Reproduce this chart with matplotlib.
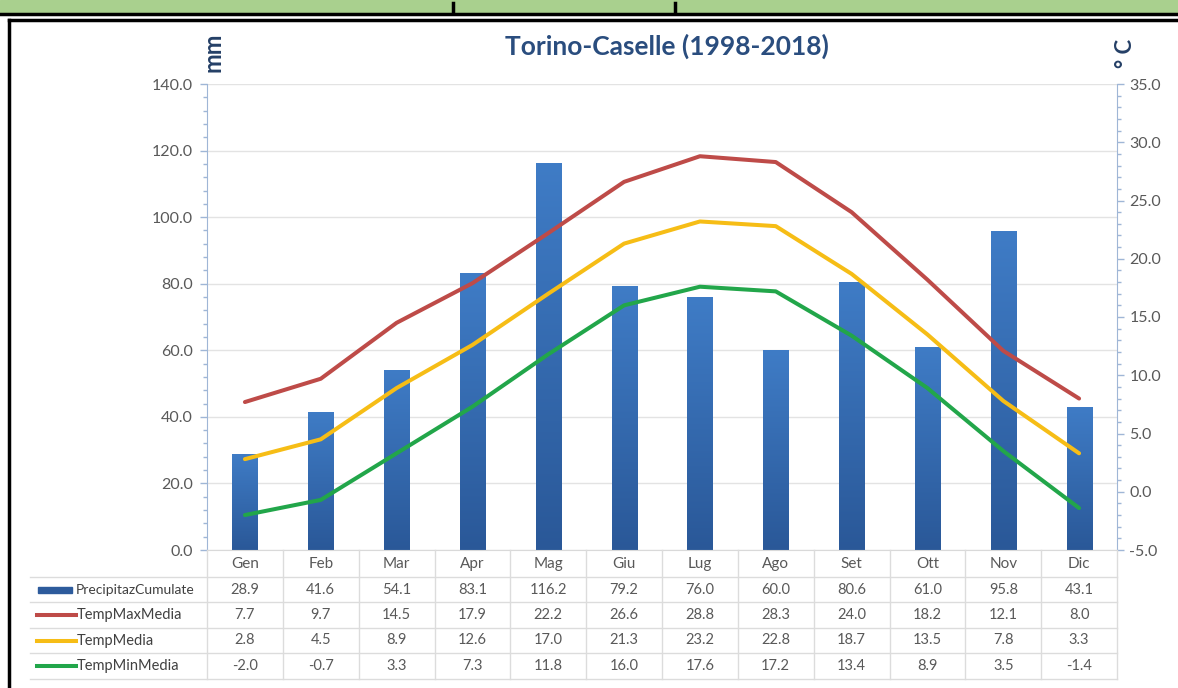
import matplotlib
matplotlib.use("Agg")
import matplotlib.pyplot as plt
import numpy as np
from matplotlib.patches import Rectangle
from matplotlib.lines import Line2D
from matplotlib.colors import LinearSegmentedColormap

months = ["Gen", "Feb", "Mar", "Apr", "Mag", "Giu", "Lug", "Ago", "Set", "Ott", "Nov", "Dic"]
precip = [28.9, 41.6, 54.1, 83.1, 116.2, 79.2, 76.0, 60.0, 80.6, 61.0, 95.8, 43.1]
tmax = [7.7, 9.7, 14.5, 17.9, 22.2, 26.6, 28.8, 28.3, 24.0, 18.2, 12.1, 8.0]
tmed = [2.8, 4.5, 8.9, 12.6, 17.0, 21.3, 23.2, 22.8, 18.7, 13.5, 7.8, 3.3]
tmin = [-2.0, -0.7, 3.3, 7.3, 11.8, 16.0, 17.6, 17.2, 13.4, 8.9, 3.5, -1.4]
series_names = ["PrecipitazCumulate", "TempMaxMedia", "TempMedia", "TempMinMedia"]

W, H = 1178, 688
plt.rcParams['font.family'] = ['Lato', 'DejaVu Sans']
fig = plt.figure(figsize=(W / 100, H / 100), dpi=100)

def fx(x):
    return x / W

def fy(y):
    return 1 - y / H

# plot area in pixels
L, R, T, B = 207, 1117, 84, 550
ax = fig.add_axes([fx(L), fy(B), fx(R) - fx(L), fy(T) - fy(B)])
ax2 = ax.twinx()

x = np.arange(len(months))

# gradient bars
bars = ax.bar(x, precip, width=0.33, color="none", edgecolor="none", zorder=2)
cmap = LinearSegmentedColormap.from_list("b", ["#2a5898", "#3f7cc6"])
grad = np.linspace(0, 1, 256).reshape(-1, 1)
for b in bars:
    x0, y0 = b.get_x(), b.get_y()
    w, h = b.get_width(), b.get_height()
    im = ax.imshow(grad, cmap=cmap, aspect="auto", origin="lower",
                   extent=[x0, x0 + w, y0, y0 + h], zorder=2)
    im.set_clip_path(b)
ax.set_xlim(-0.5, len(months) - 0.5)
ax.set_ylim(0, 140)
ax2.set_ylim(-5, 35)

line_cols = ["#be4b48", "#f6bd16", "#22a64a"]
for vals, c in zip([tmax, tmed, tmin], line_cols):
    ax2.plot(x, vals, color=c, lw=2.9, solid_joinstyle="round", solid_capstyle="round", zorder=3)

# grid & axes styling
ax.set_yticks(np.arange(0, 141, 20))
ax.set_yticks(np.arange(0, 141, 4), minor=True)
ax.yaxis.grid(True, which="major", color="#e3e3e3", lw=1)
ax.set_axisbelow(True)
ax.set_yticklabels([f"{v:.1f}" for v in np.arange(0, 141, 20)])
ax2.set_yticks(np.arange(-5, 36, 5))
ax2.set_yticks(np.arange(-5, 36, 1), minor=True)
ax2.set_yticklabels([f"{v:.1f}" for v in np.arange(-5, 36, 5)])
ax.set_xticks([])
ax2.set_xticks([])
axis_col = "#9fb6d6"
for a in (ax, ax2):
    a.spines["top"].set_visible(False)
    a.tick_params(axis="y", colors=axis_col, labelcolor="#595959", labelsize=11.5,
                  length=5, width=1)
    a.tick_params(axis="y", which="minor", colors=axis_col, length=3, width=1)
ax.spines["right"].set_visible(False)
ax2.spines["left"].set_visible(False)
ax.spines["left"].set_color(axis_col)
ax2.spines["right"].set_color(axis_col)
ax.spines["bottom"].set_color("#d9d9d9")
ax2.spines["bottom"].set_visible(False)
ax.tick_params(axis="y", pad=5)
ax2.tick_params(axis="y", pad=4)

# titles
fig.text(fx(667), fy(46), "Torino-Caselle (1998-2018)", ha="center", va="center",
         fontsize=19, fontweight="bold", color="#2a4d7e")
fig.text(fx(213), fy(52), "mm", ha="center", va="center", rotation=90,
         fontsize=17, fontweight="bold", color="#243f66")
fig.text(fx(1126), fy(53), "° C", ha="center", va="center", rotation=90,
         fontsize=16, fontweight="bold", color="#243f66")

# table
col_w = (R - L) / len(months)
row_bounds = [550, 577, 602, 628, 653, 679]
grid_col = "#dcdcdc"
for yb in row_bounds[1:]:
    fig.add_artist(Line2D([fx(30), fx(R)], [fy(yb), fy(yb)], color=grid_col, lw=1))
for k in range(len(months) + 1):
    xx = L + k * col_w
    fig.add_artist(Line2D([fx(xx), fx(xx)], [fy(550), fy(679)], color=grid_col, lw=1))
for i, m in enumerate(months):
    cx = L + (i + 0.5) * col_w
    fig.text(fx(cx), fy(564), m, ha="center", va="center", fontsize=11, color="#595959")
table_rows = [precip, tmax, tmed, tmin]
for r, vals in enumerate(table_rows):
    cy = (row_bounds[r + 1] + row_bounds[r + 2]) / 2
    for i, v in enumerate(vals):
        cx = L + (i + 0.5) * col_w
        fig.text(fx(cx), fy(cy), f"{v:.1f}", ha="center", va="center", fontsize=10.5,
                 color="#595959")
    if r == 0:
        fig.add_artist(Rectangle((fx(38), fy(593)), fx(72) - fx(38), fy(587) - fy(593),
                                 color="#2d5b9c", transform=fig.transFigure))
        fig.text(fx(76), fy(cy), series_names[r], ha="left", va="center", fontsize=10,
                 color="#404040")
    else:
        fig.add_artist(Line2D([fx(37), fx(76)], [fy(cy), fy(cy)], color=line_cols[r - 1],
                              lw=2.9))
        fig.text(fx(77), fy(cy), series_names[r], ha="left", va="center", fontsize=10.5,
                 color="#404040")

# page decorations: green band and black frame
fig.add_artist(Rectangle((0, fy(12)), 1, fy(0) - fy(12), color="#a9d08e",
                         transform=fig.transFigure, zorder=0))
fig.add_artist(Line2D([0, 1], [fy(13.5), fy(13.5)], color="black", lw=2.5))
fig.add_artist(Line2D([fx(453), fx(453)], [fy(3), fy(12)], color="black", lw=2.5))
fig.add_artist(Line2D([fx(675), fx(675)], [fy(3), fy(12)], color="black", lw=2.5))
fig.add_artist(Line2D([fx(9), 1], [fy(19.5), fy(19.5)], color="black", lw=2.5))
fig.add_artist(Line2D([fx(9), fx(9)], [fy(19.5), 0], color="black", lw=2.5))

fig.savefig("out.png", dpi=100)
